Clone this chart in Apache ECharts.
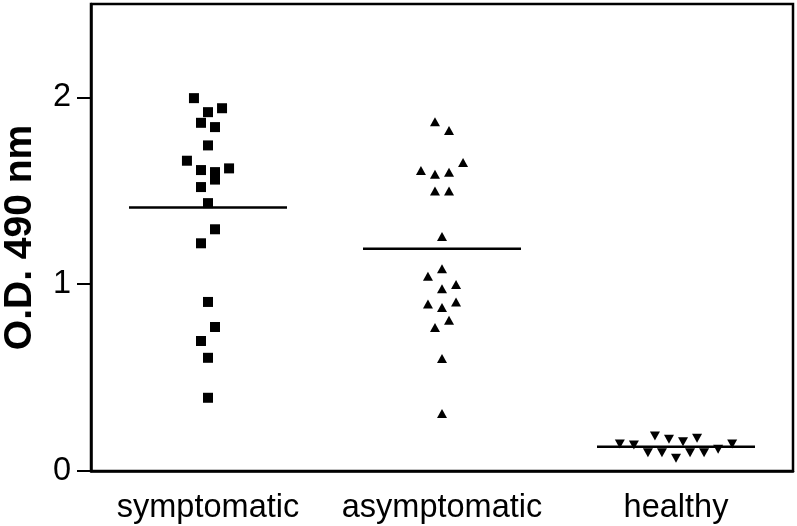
<!DOCTYPE html>
<html>
<head>
<meta charset="utf-8">
<script src="https://cdn.jsdelivr.net/npm/echarts@6/dist/echarts.min.js"></script>
<style>html,body{margin:0;padding:0;background:#fff}#c{width:797px;height:526px}</style>
</head>
<body>
<div id="c"></div>
<script>
// ---- data ----
var categories = ['symptomatic', 'asymptomatic', 'healthy'];
var yTicks = [0, 1, 2];

var symptomaticValues = [1.996, 1.921, 1.942, 1.864, 1.841, 1.743, 1.661, 1.611, 1.620, 1.600,
                         1.560, 1.520, 1.434, 1.294, 1.219, 0.905, 0.771, 0.696, 0.606, 0.392];
var symptomaticJitter = [-0.06, 0, 0.06, -0.03, 0.03, 0, -0.09, -0.03, 0.09, 0.03,
                         0.03, -0.03, 0, 0.03, -0.03, 0, 0.03, -0.03, 0, 0];

var asymptomaticValues = [1.870, 1.823, 1.652, 1.609, 1.588, 1.599, 1.499, 1.499, 1.256, 1.083,
                          1.042, 0.975, 0.998, 0.894, 0.875, 0.905, 0.807, 0.768, 0.602, 0.308];
var asymptomaticJitter = [-0.03, 0.03, 0.09, -0.09, -0.03, 0.03, -0.03, 0.03, 0, 0,
                          -0.06, 0, 0.06, -0.06, 0, 0.06, 0.03, -0.03, 0, 0];

var healthyValues = [0.144, 0.139, 0.098, 0.187, 0.098, 0.170, 0.068, 0.157, 0.098, 0.175, 0.098, 0.116, 0.144];
var healthyJitter = [-0.24, -0.18, -0.12, -0.09, -0.06, -0.03, 0, 0.03, 0.06, 0.09, 0.12, 0.18, 0.24];

var groupMeans = [1.41, 1.19, 0.130];

// ---- build ----
var FONT = "'Liberation Sans', Arial, Helvetica, sans-serif";
var HALF = 0.3376;

function pts(idx, vals, jit) {
  return vals.map(function (v, i) { return [idx + jit[i], v]; });
}
function meanLine(idx) {
  return {
    type: 'line', xAxisIndex: 1, symbol: 'none', silent: true,
    lineStyle: { color: '#000', width: 2.5 },
    data: [[idx - HALF, groupMeans[idx]], [idx + HALF, groupMeans[idx]]],
    z: 1
  };
}

var chart = echarts.init(document.getElementById('c'), null, { renderer: 'canvas' });
chart.setOption({
  animation: false,
  backgroundColor: '#fff',
  grid: { left: 91, right: 4, top: 4, bottom: 55, containLabel: false, outerBoundsMode: 'none',
          show: true, borderColor: '#000', borderWidth: 2.5, backgroundColor: 'transparent' },
  xAxis: [
    {
      type: 'category', data: categories, boundaryGap: true,
      axisLine: { show: true, onZero: false, lineStyle: { color: '#000', width: 2.5 } },
      axisTick: { show: false },
      axisLabel: { color: '#000', fontFamily: FONT, fontSize: 32.5, margin: 21, interval: 0 },
      splitLine: { show: false }
    },
    {
      type: 'value', min: -0.5, max: 2.5, show: false, splitLine: { show: false },
      axisLine: { show: false, onZero: false }
    }
  ],
  yAxis: {
    type: 'value', min: 0, max: 2.5,
    name: 'O.D. 490 nm', nameLocation: 'middle', nameGap: 51,
    nameTextStyle: { color: '#000', fontFamily: FONT, fontSize: 39, fontWeight: 'bold' },
    axisLine: { show: true, onZero: false, lineStyle: { color: '#000', width: 2.5 } },
    axisTick: { show: true, length: 14, lineStyle: { color: '#000', width: 2 }, customValues: yTicks },
    axisLabel: { color: '#000', fontFamily: FONT, fontSize: 32.5, margin: 20, customValues: yTicks },
    splitLine: { show: false }
  },
  series: [
    meanLine(0), meanLine(1), meanLine(2),
    { type: 'scatter', xAxisIndex: 1, symbol: 'rect', symbolSize: 10, itemStyle: { color: '#000', opacity: 1 },
      data: pts(0, symptomaticValues, symptomaticJitter), z: 3 },
    { type: 'scatter', xAxisIndex: 1, symbol: 'triangle', symbolSize: [10, 9], itemStyle: { color: '#000', opacity: 1 },
      data: pts(1, asymptomaticValues, asymptomaticJitter), z: 3 },
    { type: 'scatter', xAxisIndex: 1, symbol: 'triangle', symbolRotate: 180, symbolSize: [10, 9], itemStyle: { color: '#000', opacity: 1 },
      data: pts(2, healthyValues, healthyJitter), z: 3 }
  ]
});
</script>
</body>
</html>
